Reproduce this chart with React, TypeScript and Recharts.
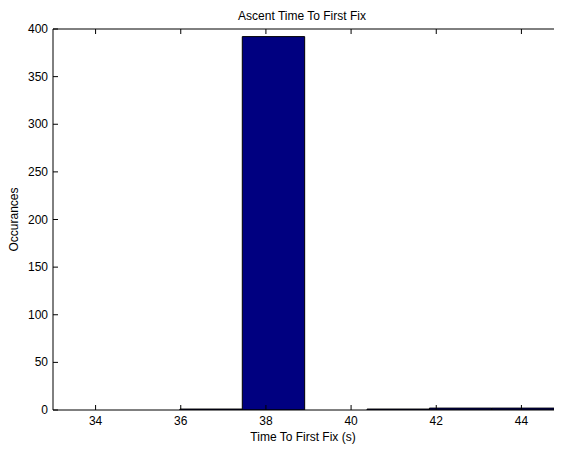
import React from "react";
import {
  ComposedChart,
  XAxis,
  YAxis,
  Line,
  ReferenceArea,
  Label,
} from "recharts";

const xTicks = [34, 36, 38, 40, 42, 44];
const yTicks = [0, 50, 100, 150, 200, 250, 300, 350, 400];
const binStarts = [35.98, 37.445, 38.91, 40.375, 41.84, 43.305];
const binEnds = [37.445, 38.91, 40.375, 41.84, 43.305, 44.77];
const counts = [1, 392, 0, 1, 2, 2];

const titleText = "Ascent Time To First Fix";
const xLabelText = "Time To First Fix (s)";
const yLabelText = "Occurances";

const data = binStarts.map((s, i) => ({
  center: (s + binEnds[i]) / 2,
  start: s,
  end: binEnds[i],
  count: counts[i],
}));

const FONT = "'Liberation Sans', Arial, Helvetica, sans-serif";

const BottomTick = (p: any) => (
  <g>
    <line x1={p.x} x2={p.x} y1={p.y} y2={p.y - 5} stroke="#000" strokeWidth={1} />
    <text x={p.x} y={p.y + 15} textAnchor="middle" fontSize={12} fontFamily={FONT} fill="#000">
      {p.payload.value}
    </text>
  </g>
);

const TopTick = (p: any) => (
  <line x1={p.x} x2={p.x} y1={p.y} y2={p.y + 5} stroke="#000" strokeWidth={1} />
);

const LeftTick = (p: any) => (
  <g>
    <line x1={p.x} x2={p.x + 5} y1={p.y} y2={p.y} stroke="#000" strokeWidth={1} />
    <text x={p.x - 5} y={p.y + 4} textAnchor="end" fontSize={12} fontFamily={FONT} fill="#000">
      {p.payload.value}
    </text>
  </g>
);

const RightTick = (p: any) => (
  <line x1={p.x} x2={p.x - 5} y1={p.y} y2={p.y} stroke="#000" strokeWidth={1} />
);

export default function App() {
  return (
    <div
      style={{
        marginLeft: -8,
        marginTop: -8,
        width: 562,
        height: 449,
        overflow: "hidden",
        background: "#fff",
        position: "relative",
      }}
    >
      <ComposedChart
        width={580}
        height={449}
        data={data}
        margin={{ top: 28, right: 15, bottom: 19, left: 0 }}
      >
        <XAxis
          xAxisId={0}
          dataKey="center"
          type="number"
          domain={[33, 45]}
          allowDataOverflow
          ticks={xTicks}
          tickSize={0}
          tickMargin={0}
          tickLine={false}
          height={20}
          axisLine={{ stroke: "#000" }}
          tick={<BottomTick />}
          interval={0}
        >
          <Label
            content={() => (
              <text x={303} y={441} textAnchor="middle" fontSize={12} fontFamily={FONT} fill="#000">
                {xLabelText}
              </text>
            )}
          />
        </XAxis>
        <XAxis
          xAxisId="top"
          orientation="top"
          dataKey="center"
          type="number"
          domain={[33, 45]}
          allowDataOverflow
          ticks={xTicks}
          tickSize={0}
          tickMargin={0}
          tickLine={false}
          height={1}
          axisLine={{ stroke: "#000" }}
          tick={<TopTick />}
          interval={0}
        >
          <Label
            content={() => (
              <text x={302} y={20} textAnchor="middle" fontSize={12} fontFamily={FONT} fill="#000">
                {titleText}
              </text>
            )}
          />
        </XAxis>
        <YAxis
          yAxisId={0}
          type="number"
          domain={[0, 400]}
          allowDataOverflow
          ticks={yTicks}
          tickSize={0}
          tickMargin={0}
          tickLine={false}
          width={53}
          axisLine={{ stroke: "#000" }}
          tick={<LeftTick />}
          interval={0}
        >
          <Label
            content={() => (
              <text
                x={18}
                y={219.5}
                transform="rotate(-90, 18, 219.5)"
                textAnchor="middle"
                fontSize={12}
                fontFamily={FONT}
                fill="#000"
              >
                {yLabelText}
              </text>
            )}
          />
        </YAxis>
        <YAxis
          yAxisId="right"
          orientation="right"
          type="number"
          domain={[0, 400]}
          allowDataOverflow
          ticks={yTicks}
          tickSize={0}
          tickMargin={0}
          tickLine={false}
          width={1}
          axisLine={{ stroke: "#000" }}
          tick={<RightTick />}
          interval={0}
        />
        {data
          .filter((d) => d.count > 0)
          .map((d, i) => (
            <ReferenceArea
              key={i}
              xAxisId={0}
              yAxisId={0}
              x1={d.start}
              x2={d.end}
              y1={0}
              y2={d.count}
              fill="#000080"
              fillOpacity={1}
              stroke="#000"
              strokeWidth={1}
              strokeOpacity={1}
              ifOverflow="hidden"
            />
          ))}
        <Line
          xAxisId={0}
          yAxisId={0}
          dataKey="count"
          stroke="none"
          dot={false}
          activeDot={false}
          isAnimationActive={false}
        />
      </ComposedChart>
    </div>
  );
}
